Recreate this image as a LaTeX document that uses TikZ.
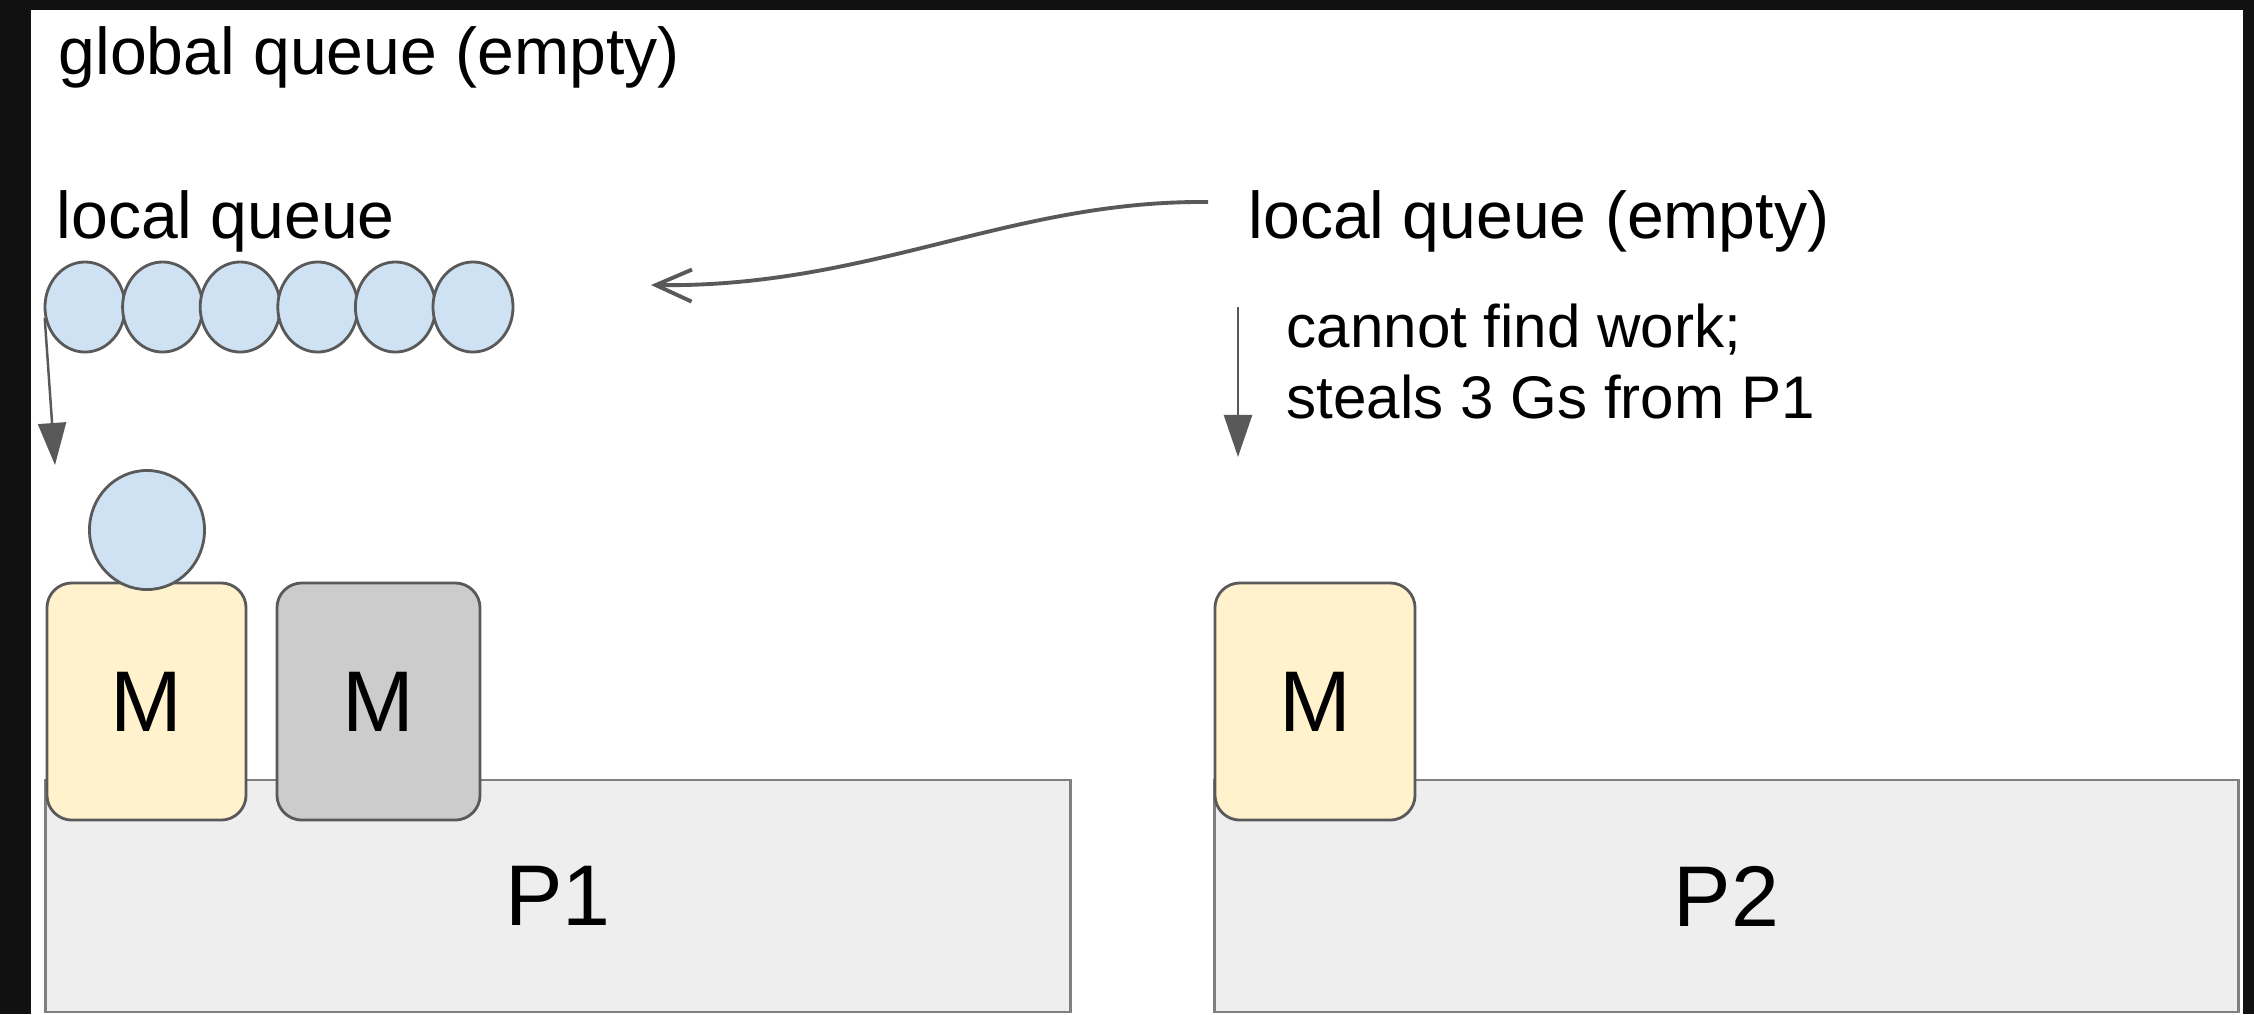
\documentclass[tikz,border=0pt]{standalone}
\usepackage{fontspec}
\setmainfont{Liberation Sans}
\usetikzlibrary{arrows.meta,shapes.geometric}
\definecolor{frameblack}{HTML}{111111}
\definecolor{gline}{HTML}{595959}
\definecolor{gblue}{HTML}{CFE2F3}
\definecolor{gyellow}{HTML}{FFF2CC}
\definecolor{ggray}{HTML}{CCCCCC}
\definecolor{pgray}{HTML}{EEEEEE}
\definecolor{pline}{HTML}{7F7F7F}
\begin{document}
\begin{tikzpicture}[x=0.01cm,y=-0.01cm,
 lbl/.style={anchor=base west, inner sep=0pt, font=\fontsize{18.8pt}{22pt}\selectfont},
 note/.style={anchor=base west, inner sep=0pt, font=\fontsize{17.1pt}{20pt}\selectfont},
 pbox/.style={draw=pline, fill=pgray, line width=0.8pt, inner sep=0pt, minimum width=10.24cm, minimum height=2.32cm, font=\fontsize{24.5pt}{28pt}\selectfont},
 mbox/.style={draw=gline, line width=0.8pt, rounded corners=0.25cm, inner sep=0pt, minimum width=2cm, minimum height=2.37cm, font=\fontsize{24.5pt}{28pt}\selectfont},
 gq/.style={ellipse, draw=gline, fill=gblue, line width=0.8pt, inner sep=0pt, minimum width=0.8cm, minimum height=0.9cm},
 arr/.style={draw=gline, line width=0.7pt, -{Triangle[length=0.42cm,width=0.28cm]}},
 curvearr/.style={draw=gline, line width=1.1pt, -{Straight Barb[length=0.36cm,width=0.32cm]}},
 ]
\fill[frameblack] (0,0) rectangle (2254,1014);
\fill[white] (31,10) rectangle (2243,1014);
\useasboundingbox (0,0) rectangle (2254,1014);

\node[pbox] (p1) at (558,896) {P1};
\node[pbox, minimum width=10.23cm] (p2) at (1726.5,896) {P2};
\node[mbox, fill=gyellow, minimum width=1.99cm] (m1) at (146.5,701.5) {M};
\node[mbox, fill=ggray, minimum width=2.03cm] (m2) at (378.5,701.5) {M};
\node[mbox, fill=gyellow] (m3) at (1315,701.5) {M};

\foreach \i in {0,...,5} {
  \node[gq] (q\i) at ({85+77.6*\i},307) {};
}
\node[gq, minimum width=1.15cm, minimum height=1.19cm] (g0) at (147,530) {};

\node[lbl] (gqt) at (58,74) {global queue (empty)};
\node[lbl] (lq) at (56,238) {local queue};
\node[lbl] (lqe) at (1248,238) {local queue (empty)};
\node[note] (cw1) at (1286,347) {cannot find work;};
\node[note] (cw2) at (1286,418) {steals 3 Gs from P1};

\coordinate (t1) at (55,465);
\coordinate (s2) at (1208,202);
\coordinate (t2) at (651,285);
\coordinate (s3) at (1238,307);
\coordinate (t3) at (1238,457);

\draw[arr] (q0.195) -- (t1);
\draw[curvearr] (s2) .. controls (1010,200) and (870,288) .. (t2);
\draw[arr] (s3) -- (t3);
\end{tikzpicture}
\end{document}
